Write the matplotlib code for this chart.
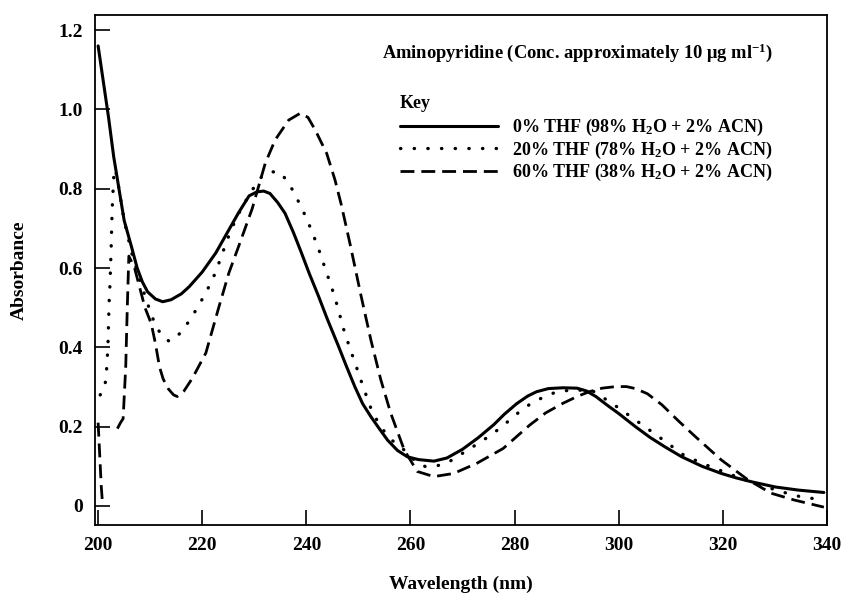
import numpy as np
import matplotlib
matplotlib.use("Agg")
import matplotlib.pyplot as plt

plt.rcParams['font.family'] = ['Liberation Serif', 'DejaVu Serif']
plt.rcParams['font.weight'] = 'bold'
plt.rcParams['mathtext.fontset'] = 'custom'
plt.rcParams['mathtext.rm'] = 'Liberation Serif:bold'
plt.rcParams['mathtext.it'] = 'Liberation Serif:bold'
plt.rcParams['mathtext.bf'] = 'Liberation Serif:bold'

# 0% THF (solid)
x0 = [200, 201, 202, 203, 204, 205, 206.4, 207.5, 208.5, 209.5, 211, 212.4, 214, 216, 217.5,
      220, 222.6, 225.1, 227, 229, 230.5, 231.8, 233, 234.5, 235.9, 237.5, 239, 240.5, 242.3,
      244, 246.1, 247.7, 249.3, 250.8, 252.4, 254, 255.6, 257.5, 259.4, 261.5, 264.5, 267,
      270, 273, 276, 278, 280.4, 282.5, 284.2, 286.5, 289.3, 292, 293.8, 295.6, 298,
      300, 303.2, 306, 309, 312.1, 316, 319.7, 322.5, 325.5, 330, 334.5, 339.4]
y0 = [1.16, 1.07, 0.98, 0.88, 0.80, 0.72, 0.654, 0.60, 0.565, 0.54, 0.522, 0.515, 0.52, 0.535, 0.553,
      0.59, 0.638, 0.696, 0.74, 0.782, 0.792, 0.794, 0.788, 0.765, 0.738, 0.69, 0.64, 0.588, 0.530,
      0.472, 0.405, 0.352, 0.301, 0.258, 0.225, 0.195, 0.166, 0.14, 0.124, 0.117, 0.113, 0.121,
      0.143, 0.172, 0.205, 0.231, 0.258, 0.277, 0.288, 0.296, 0.298, 0.297, 0.29, 0.276, 0.252,
      0.233, 0.2, 0.173, 0.148, 0.124, 0.1, 0.082, 0.071, 0.061, 0.048, 0.04, 0.034]

# 20% THF (dotted)
x20 = [200.4, 201.3, 201.7, 201.9, 202.1, 202.3, 202.5, 202.7, 203.0, 203.3, 204, 205, 206.4,
       208, 209.5, 211, 212.5, 213.7, 215, 216.6, 218.8, 220.8, 222.5, 223.9, 225.5, 227.5,
       229.5, 231.4, 233, 234.7, 236, 237.2, 239.1, 240.7, 242.2, 243.5, 245, 246.1, 247,
       248.3, 249.6, 251, 252.4, 254.2, 256.5, 258.8, 261, 262.9, 265, 267, 270.5, 274, 277.2,
       280.4, 283.6, 287.7, 291, 295, 298.8, 301.9, 305, 309, 312.4, 315.9, 320, 325, 331.2,
       335, 339.4]
y20 = [0.28, 0.30, 0.355, 0.41, 0.51, 0.565, 0.65, 0.75, 0.83, 0.85, 0.80, 0.72, 0.64,
       0.57, 0.51, 0.455, 0.425, 0.415, 0.425, 0.449, 0.494, 0.54, 0.587, 0.638, 0.696, 0.75,
       0.795, 0.83, 0.842, 0.843, 0.825, 0.80, 0.752, 0.704, 0.654, 0.603, 0.545, 0.498, 0.452,
       0.40, 0.351, 0.297, 0.246, 0.2, 0.165, 0.141, 0.112, 0.099, 0.101, 0.108, 0.137, 0.166, 0.196,
       0.232, 0.263, 0.286, 0.293, 0.290, 0.258, 0.229, 0.20, 0.162, 0.129, 0.108, 0.087, 0.062, 0.036,
       0.023, 0.015]

# 60% THF (dashed)
x60 = [200, 200.3, 200.6, 200.85, np.nan, 203.7, 204.3, 204.8, 205.3, 205.6, 205.9, 207,
       208, 209, 210.2, 211, 211.8, 212.5, 213.5, 214.5, 215.2, 216.5, 218.1, 220.7, 223.2, 225.1,
       227, 229.6, 232.1, 234, 236.6, 238.8, 240.3, 241.7, 243.9, 245.5, 246.7, 248.4, 250.5,
       252.4, 254.3, 256.2, 258.8, 261.3, 264.5, 268.3, 272.8, 277.8, 282.9, 286, 289.3, 292,
       294.3, 296.8, 299.4, 301.5, 303.2, 305.5, 308.3, 311.5, 314.7, 319.7, 324.8, 329.3, 333.7, 339.4]
y60 = [0.21, 0.13, 0.05, 0.005, np.nan, 0.195, 0.21, 0.22, 0.35, 0.50, 0.63, 0.60,
       0.55, 0.50, 0.46, 0.41, 0.35, 0.32, 0.295, 0.28, 0.276, 0.29, 0.322, 0.386, 0.502, 0.587,
       0.655, 0.75, 0.864, 0.923, 0.973, 0.99, 0.98, 0.948, 0.889, 0.822, 0.76, 0.66, 0.53,
       0.418, 0.318, 0.234, 0.141, 0.087, 0.074, 0.082, 0.108, 0.145, 0.204, 0.235, 0.259, 0.276,
       0.288, 0.297, 0.301, 0.301, 0.296, 0.283, 0.255, 0.214, 0.175, 0.116, 0.066, 0.032, 0.015, -0.003]

labels = [r'0% THF (98% H$_\mathrm{2}$O + 2% ACN)',
          r'20% THF (78% H$_\mathrm{2}$O + 2% ACN)',
          r'60% THF (38% H$_\mathrm{2}$O + 2% ACN)']
xticks = [200, 220, 240, 260, 280, 300, 320, 340]
yticks = [0, 0.2, 0.4, 0.6, 0.8, 1.0, 1.2]
yticklabels = ['0', '0.2', '0.4', '0.6', '0.8', '1.0', '1.2']

fig = plt.figure(figsize=(8.43, 5.98), dpi=100)
ax = fig.add_axes([95/843, 1-525/598, (827-95)/843, (525-15)/598])

l0, = ax.plot(x0, y0, color='black', lw=2.2, solid_capstyle='round', solid_joinstyle='round')
l1, = ax.plot(x20, y20, color='black', lw=2.4, linestyle=(0, (0.1, 4)), dash_capstyle='round')
l2, = ax.plot(x60, y60, color='black', lw=2.0, linestyle=(0, (5, 2.5)))

ax.set_xlim(199.4, 339.4)
ax.set_ylim(-0.048, 1.238)
ax.set_xticks(xticks)
ax.set_xticklabels([str(t) for t in xticks])
ax.set_yticks(yticks)
ax.set_yticklabels(yticklabels)
ax.tick_params(direction='in', length=11, width=1.2, labelsize=14, top=False, right=False)
ax.tick_params(axis='y', pad=9)
ax.tick_params(axis='x', pad=9)
for s in ax.spines.values():
    s.set_linewidth(1.3)

ax.set_xlabel('Wavelength (nm)', fontsize=14, fontweight='bold', labelpad=15)
ax.set_ylabel('Absorbance', fontsize=14, fontweight='bold', labelpad=22)

ax.text(382/843, 1-53/598, r'Aminopyridine (Conc. approximately 10 $\mathrm{\mu}$g ml$^{-1}$)',
        transform=fig.transFigure, fontsize=13.3, fontweight='bold', va='center', ha='left')
ax.text(400/843, 1-103/598, 'Key', transform=fig.transFigure, fontsize=13,
        fontweight='bold', va='center', ha='left')

leg = ax.legend([l0, l1, l2], labels, loc='upper left',
                bbox_to_anchor=(400/843, 1-117/598), bbox_transform=fig.transFigure,
                frameon=False, fontsize=13, handlelength=5.4, handletextpad=0.8,
                borderpad=0, borderaxespad=0, labelspacing=0.08)

fig.savefig('out.png', dpi=100)
